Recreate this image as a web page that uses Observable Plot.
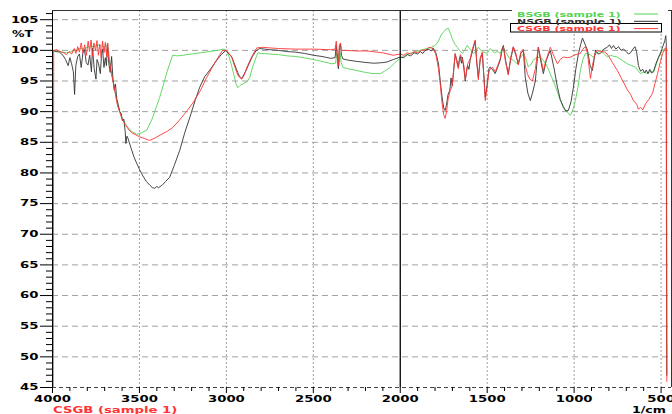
<!DOCTYPE html>
<html><head><meta charset="utf-8">
<script src="https://cdn.jsdelivr.net/npm/d3@7"></script>
<script src="https://cdn.jsdelivr.net/npm/@observablehq/plot@0.6"></script>
<style>body{margin:0;background:#fff} svg{display:block}</style>
</head><body><div id="chart"></div>
<script>
// Axis domains & ticks
const xDomain = [4000, 440];
const yDomain = [45, 106.5];
const xMajor = [4000, 3500, 3000, 2500, 2000, 1500, 1000, 500];
const xMinor = d3.range(500, 4001, 100).filter(v => v % 500 !== 0);
const yMajor = [45, 50, 55, 60, 65, 70, 75, 80, 85, 90, 95, 100, 105];
const yMinor = d3.range(45, 107, 1).filter(v => v % 5 !== 0);

// Series names
const seriesNames = ["BSGB (sample 1)", "NSGB (sample 1)", "CSGB (sample 1)"];
const seriesColors = ["#55d455", "#333333", "#ff3535"];

// BSGB (green): [wavenumber 1/cm, %T]
const bsgb = [
[4000,100.0],[3980,99.9],[3960,99.8],[3940,99.7],[3920,99.6],[3900,99.7],[3880,99.9],[3860,100.1],[3840,100.3],
[3820,100.2],[3800,100.5],[3780,100.7],[3760,100.6],[3740,100.9],[3720,100.7],[3700,100.6],[3690,100.8],[3680,100.4],
[3670,98.0],[3660,96.2],[3648,94.5],[3636,92.6],[3626,91.2],[3612,90.0],[3600,89.0],[3580,88.0],[3560,87.2],[3540,86.7],
[3516,86.3],[3490,86.5],[3458,87.0],[3430,88.6],[3410,90.2],[3384,92.3],[3360,94.6],[3340,96.6],[3320,98.3],[3309,99.2],
[3280,99.1],[3250,99.2],[3200,99.4],[3150,99.6],[3100,99.8],[3050,100.0],[3020,100.2],[3000,100.0],[2985,99.0],[2970,97.5],
[2955,95.8],[2945,94.6],[2934,93.9],[2920,94.3],[2900,94.6],[2880,94.9],[2865,95.6],[2850,97.2],[2830,98.8],[2819,99.6],
[2800,99.5],[2750,99.4],[2700,99.3],[2650,99.1],[2600,99.0],[2577,98.9],[2500,98.5],[2450,98.2],[2393,97.8],[2372,97.9],
[2365,99.5],[2358,98.0],[2352,97.5],[2346,99.6],[2340,98.0],[2329,97.2],[2300,97.0],[2250,96.7],[2200,96.4],[2156,96.2],
[2116,96.2],[2090,96.6],[2058,97.2],[2030,98.0],[2001,98.7],[1970,99.2],[1943,99.5],[1900,99.9],[1860,100.2],[1830,100.4],
[1799,100.8],[1780,101.5],[1765,102.5],[1750,103.0],[1735,103.5],[1724,103.6],[1712,102.8],[1700,101.8],[1685,101.0],
[1672,100.5],[1660,100.0],[1643,99.5],[1630,100.0],[1615,100.8],[1598,100.2],[1580,99.5],[1565,99.8],[1551,100.5],
[1530,99.8],[1500,99.5],[1482,100.3],[1460,99.6],[1440,99.8],[1425,99.5],[1410,100.6],[1395,99.8],[1370,98.6],[1350,98.4],
[1327,97.8],[1310,98.8],[1290,99.5],[1275,98.4],[1264,97.3],[1250,97.6],[1235,98.4],[1215,98.8],[1194,98.9],[1175,98.3],
[1154,97.3],[1135,96.0],[1119,95.0],[1100,93.5],[1079,91.8],[1050,90.3],[1035,89.8],[1021,89.4],[1005,90.5],[993,91.8],
[978,94.0],[964,96.7],[950,98.5],[935,99.5],[915,99.4],[889,98.9],[870,99.6],[849,100.0],[830,99.5],[809,98.9],[790,99.2],
[770,99.0],[751,98.9],[720,98.3],[693,97.8],[670,97.5],[647,97.3],[630,96.6],[618,96.2],[600,96.5],[580,96.2],[560,96.6],
[543,96.4],[530,97.5],[514,98.9],[495,99.8],[480,100.3],[471,100.0],[468,47]
];

// NSGB (black)
const nsgb = [
[4000,100.0],[3980,99.8],[3960,99.7],[3940,99.2],[3925,98.5],[3910,97.5],[3900,98.8],[3890,97.8],[3880,96.5],[3873,92.8],
[3866,97.5],[3855,99.0],[3845,99.4],[3835,97.2],[3825,99.6],[3816,100.1],[3806,98.0],[3796,97.6],[3786,99.2],[3776,96.5],
[3770,100.4],[3760,97.0],[3750,95.3],[3744,98.5],[3735,97.8],[3725,96.2],[3718,99.3],[3712,100.2],[3704,97.2],[3696,98.8],
[3690,97.5],[3684,101.0],[3676,97.8],[3668,96.4],[3660,99.0],[3652,95.2],[3645,93.5],[3638,94.5],[3630,92.0],[3622,91.2],
[3614,90.0],[3606,89.8],[3598,88.5],[3590,88.8],[3582,86.8],[3578,84.8],[3572,86.0],[3565,85.6],[3550,84.2],[3530,82.5],
[3516,81.6],[3500,80.6],[3480,79.5],[3460,78.6],[3440,78.0],[3425,77.6],[3412,77.5],[3400,77.8],[3390,77.6],[3375,77.9],
[3366,78.1],[3350,78.6],[3326,79.3],[3300,81.2],[3268,83.7],[3240,86.5],[3211,89.0],[3180,91.8],[3153,94.0],[3125,95.7],
[3095,96.8],[3070,97.8],[3055,98.4],[3030,99.3],[3003,100.0],[2985,99.4],[2969,98.9],[2950,97.5],[2935,96.4],[2925,95.8],
[2912,95.4],[2900,96.0],[2885,96.8],[2870,97.8],[2850,99.0],[2830,99.9],[2808,100.3],[2780,100.2],[2750,100.1],[2700,100.0],
[2650,99.8],[2600,99.7],[2550,99.5],[2500,99.2],[2450,99.0],[2400,98.7],[2375,98.8],[2368,100.8],[2360,98.5],[2356,97.0],
[2350,100.5],[2344,101.0],[2338,99.2],[2330,98.6],[2300,98.4],[2250,98.2],[2191,98.0],[2150,97.9],[2100,98.0],[2076,98.1],
[2040,98.5],[2001,98.9],[1980,98.8],[1960,99.3],[1940,99.1],[1920,99.6],[1900,99.4],[1885,99.8],[1870,99.5],[1860,99.9],
[1840,100.2],[1820,99.9],[1811,100.4],[1795,99.6],[1780,97.8],[1770,95.0],[1760,92.5],[1750,90.6],[1742,90.2],[1735,91.0],
[1725,92.8],[1715,93.5],[1708,95.5],[1701,94.2],[1692,97.0],[1684,99.4],[1676,98.5],[1670,97.8],[1666,97.3],[1660,98.6],
[1655,99.0],[1648,97.9],[1643,98.9],[1634,97.0],[1626,95.0],[1618,96.8],[1612,97.5],[1605,96.9],[1598,98.4],[1584,100.0],
[1569,101.5],[1560,98.0],[1551,95.6],[1540,98.5],[1528,99.5],[1518,95.5],[1511,92.3],[1500,94.5],[1490,97.0],[1482,97.3],
[1468,96.8],[1454,96.2],[1440,97.2],[1425,98.4],[1415,100.0],[1407,100.8],[1395,98.5],[1379,96.2],[1365,98.5],[1350,100.5],
[1335,99.2],[1321,97.8],[1306,99.5],[1292,100.0],[1281,95.6],[1266,93.0],[1252,91.8],[1238,93.2],[1223,95.0],[1206,100.5],
[1190,98.0],[1177,96.2],[1160,98.4],[1137,100.0],[1115,97.0],[1096,94.0],[1080,92.0],[1062,90.7],[1048,90.1],[1033,90.2],
[1018,91.6],[1004,94.0],[990,97.0],[975,99.5],[962,101.0],[952,102.0],[940,101.2],[923,100.0],[908,97.5],[895,96.7],
[885,98.5],[877,100.0],[862,99.4],[849,99.5],[830,100.2],[809,100.5],[797,100.9],[785,100.3],[774,100.8],[760,100.2],
[745,100.6],[730,100.0],[716,100.2],[700,99.8],[688,99.4],[676,99.6],[662,100.2],[650,100.6],[641,99.8],[630,97.5],
[618,96.6],[605,96.9],[595,96.3],[585,96.8],[575,96.2],[565,96.9],[555,96.3],[543,96.6],[530,97.8],[514,98.9],[500,99.8],
[488,100.8],[478,101.6],[473,102.4],[470,101.0],[467,47]
];

// CSGB (red)
const csgb = [
[3996,45],[3993,100.0],[3975,100.1],[3955,99.8],[3935,99.6],[3920,99.3],[3905,99.8],[3890,99.4],[3875,100.3],[3865,99.5],
[3855,100.6],[3845,99.7],[3835,101.2],[3825,99.6],[3815,100.9],[3805,99.2],[3795,101.5],[3787,99.8],[3778,101.7],[3770,99.0],
[3762,101.2],[3752,100.0],[3744,101.6],[3736,99.2],[3728,101.0],[3720,98.8],[3712,101.5],[3704,99.6],[3696,101.3],[3688,99.0],
[3682,101.2],[3676,98.5],[3668,97.5],[3660,96.0],[3648,94.5],[3636,92.5],[3626,91.0],[3612,89.8],[3600,88.8],[3580,87.8],
[3560,87.0],[3540,86.5],[3520,86.2],[3500,85.9],[3470,85.6],[3441,85.3],[3410,85.7],[3380,86.2],[3340,86.8],[3309,87.4],
[3270,88.6],[3230,90.0],[3193,91.4],[3150,93.4],[3113,95.6],[3070,97.8],[3040,99.2],[3021,100.0],[3000,100.0],[2985,99.5],
[2969,98.9],[2950,97.2],[2935,96.0],[2925,95.6],[2912,95.3],[2900,95.8],[2885,97.0],[2870,98.0],[2850,99.2],[2825,100.4],
[2790,100.5],[2750,100.4],[2700,100.3],[2600,100.2],[2500,100.2],[2400,100.1],[2375,100.2],[2368,101.5],[2360,98.0],
[2356,97.5],[2350,100.8],[2344,101.2],[2338,100.0],[2330,100.0],[2250,99.9],[2191,99.9],[2100,99.6],[2041,99.2],[2000,99.4],
[1980,99.2],[1960,99.6],[1940,99.4],[1920,99.8],[1900,99.6],[1880,100.0],[1850,100.1],[1835,100.5],[1811,100.3],[1795,99.3],
[1780,97.0],[1770,94.5],[1760,91.5],[1750,89.5],[1742,88.9],[1735,89.8],[1725,92.0],[1712,93.5],[1701,94.2],[1692,97.0],
[1684,99.5],[1676,98.2],[1666,97.0],[1655,99.3],[1643,98.6],[1634,97.5],[1626,95.2],[1612,97.8],[1598,98.6],[1584,100.3],
[1569,101.7],[1560,98.3],[1551,95.2],[1540,98.8],[1528,99.7],[1518,95.0],[1511,91.8],[1500,94.0],[1490,96.5],[1482,97.0],
[1468,97.2],[1454,96.5],[1440,97.5],[1425,98.6],[1415,100.2],[1407,100.6],[1395,98.2],[1379,96.0],[1365,98.8],[1350,100.6],
[1335,99.5],[1321,97.6],[1306,99.8],[1292,100.2],[1281,97.5],[1269,96.2],[1255,95.3],[1240,95.0],[1223,97.0],[1206,100.5],
[1190,98.5],[1177,96.7],[1160,98.5],[1137,100.5],[1115,99.0],[1096,97.8],[1080,98.5],[1062,98.9],[1040,98.8],[1021,98.9],
[1000,99.2],[980,99.4],[964,99.5],[950,100.2],[935,100.6],[923,99.5],[915,97.5],[906,95.4],[895,97.5],[880,99.5],[866,100.0],
[845,99.8],[820,99.7],[800,99.0],[780,98.0],[751,96.7],[720,95.0],[693,93.5],[675,92.8],[659,91.8],[640,91.2],[630,90.4],
[618,90.7],[605,90.3],[589,91.3],[570,92.0],[549,93.0],[535,94.6],[520,96.2],[505,98.0],[491,99.5],[475,100.3],[469,100.5],
[467,46]
];

const toRows = arr => arr.map(([w, t]) => ({w, t}));
const STRETCH = 1.47;
const intFmt = d3.format("d");

const plot = Plot.plot({
  width: 672, height: 414,
  marginLeft: 52, marginRight: 1, marginTop: 10, marginBottom: 27,
  x: {domain: xDomain, label: null},
  y: {domain: yDomain, label: null},
  style: {fontFamily: "DejaVu Sans", fontWeight: "bold", fontSize: "9px", color: "#000", background: "#fff", overflow: "visible"},
  marks: [
    Plot.gridY({ticks: yMajor.filter(v => v > 45), stroke: "#a0a0a0", strokeOpacity: 1, strokeDasharray: "6,4"}),
    Plot.gridX({ticks: xMajor.filter(v => v !== 2000 && v !== 4000), stroke: "#a0a0a0", strokeOpacity: 1, strokeDasharray: "2,2"}),
    Plot.ruleY([yDomain[0]], {stroke: "#444", strokeDasharray: "4,3"}),
    Plot.line(toRows(bsgb), {x: "w", y: "t", stroke: seriesColors[0], strokeWidth: 0.9}),
    Plot.line(toRows(nsgb), {x: "w", y: "t", stroke: seriesColors[1], strokeWidth: 0.9}),
    Plot.line(toRows(csgb), {x: "w", y: "t", stroke: seriesColors[2], strokeWidth: 0.9}),
    Plot.ruleX([2000], {stroke: "#000", strokeWidth: 1.3}),
    Plot.ruleX([xDomain[0]], {stroke: "#000"}),
    Plot.ruleX([xDomain[1]], {stroke: "#333"}),
    Plot.ruleY([yDomain[1]], {stroke: "#333"}),
    Plot.axisY({ticks: yMajor, tickSize: 12, tickPadding: 2, anchor: "left", label: null, tickFormat: intFmt}),
    Plot.axisY({ticks: yMinor, tickSize: 6, tickFormat: () => "", anchor: "left", label: null}),
    Plot.axisX({ticks: xMajor, tickSize: 6, tickPadding: 2, anchor: "bottom", label: null, tickFormat: intFmt}),
    Plot.axisX({ticks: xMinor, tickSize: 4, tickFormat: () => "", anchor: "bottom", label: null})
  ]
});

const svg = d3.select(plot);
// horizontally stretched tick labels, like the reference
svg.selectAll("text").each(function () {
  const tr = this.getAttribute("transform") || "";
  const x = +(this.getAttribute("x") || 0);
  this.setAttribute("transform", `${tr} translate(${x},0) scale(${STRETCH},1) translate(${-x},0)`);
});

function label(txt, x, y, opts = {}) {
  svg.append("text")
    .attr("transform", `translate(${x},${y}) scale(${STRETCH},1)`)
    .attr("text-anchor", opts.anchor || "start")
    .attr("font-family", "DejaVu Sans").attr("font-weight", "bold")
    .attr("font-size", opts.size || 9)
    .attr("fill", opts.fill || "#000")
    .text(txt);
}
label("%T", 12, 37, {size: 8.5});
label("1/cm", 666, 412.5, {anchor: "end", size: 8.6});
label(seriesNames[2], 53, 412.5, {size: 9, fill: seriesColors[2]});

// legend
const lg = svg.append("g");
lg.append("rect").attr("x", 512).attr("y", 5).attr("width", 156).attr("height", 18).attr("fill", "#fff");
lg.append("rect").attr("x", 510.5).attr("y", 23.5).attr("width", 151).attr("height", 8.5)
  .attr("fill", "#fff").attr("stroke", "#000").attr("stroke-width", 1);
seriesNames.forEach((name, i) => {
  const y = 14 + i * 7.3;
  lg.append("line").attr("x1", 634).attr("x2", 658).attr("y1", y).attr("y2", y)
    .attr("stroke", seriesColors[i]).attr("stroke-width", 1);
  label(name, 517, y + 2.7, {size: 7.5, fill: seriesColors[i]});
});

document.getElementById("chart").appendChild(plot);
</script>
</body></html>
